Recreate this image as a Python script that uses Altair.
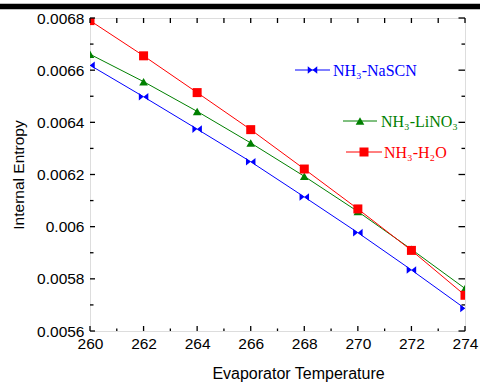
import altair as alt
import pandas as pd

# ---- data ----
temps = [260, 262, 264, 266, 268, 270, 272, 274]
nascn = [0.006619, 0.006498, 0.006374, 0.006249, 0.006114, 0.005977, 0.005834, 0.005686]
lino3 = [0.006661, 0.006556, 0.006442, 0.006321, 0.006193, 0.006058, 0.005913, 0.005763]
h2o = [0.006790, 0.006655, 0.006514, 0.006372, 0.006221, 0.006068, 0.005909, 0.005737]
series_names = ["NH₃-NaSCN", "NH₃-LiNO₃", "NH₃-H₂O"]
x_major = [260, 262, 264, 266, 268, 270, 272, 274]
x_minor = [261, 263, 265, 267, 269, 271, 273]
y_major = [0.0056, 0.0058, 0.0060, 0.0062, 0.0064, 0.0066, 0.0068]
y_minor = [0.0057, 0.0059, 0.0061, 0.0063, 0.0065, 0.0067]

# ---- styling / layout ----
W, H = 375, 313
colors = ["#0000ff", "#008000", "#ff0000"]
bowtie = "M-1,-0.8L0,0L-1,0.8ZM1,-0.8L0,0L1,0.8Z"
shapes = [bowtie, "triangle-up", "square"]
sizes = [90, 75, 81]
# legend layout: (line x0, line x1, y, text x)
leg_layout = [(205, 240, 52, 243), (253, 287, 103, 291), (256, 292, 134, 294)]

xs = alt.Scale(domain=[260, 274], nice=False, zero=False)
ys = alt.Scale(domain=[0.0056, 0.0068], nice=False, zero=False)

common = dict(labelFont="Liberation Sans", labelFontSize=15.5, labelColor="black",
              labelFlush=False, labelOverlap=False, labelBound=False,
              titleFont="Liberation Sans", titleColor="black", titleFontWeight="normal",
              domain=False, ticks=False, tickSize=0, grid=False)
x_axis = alt.Axis(values=x_major, title="Evaporator Temperature", format="d",
                  titleX=208, titleY=47, titleBaseline="alphabetic", titleFontSize=16,
                  labelPadding=5, **common)
y_axis = alt.Axis(values=y_major, title="Internal Entropy", format="~g",
                  titleX=-72, titleY=156.5, titleBaseline="middle", titleFontSize=15.5,
                  labelPadding=6, **common)

X = lambda: alt.X("T:Q", scale=xs, axis=x_axis)
Y = lambda: alt.Y("E:Q", scale=ys, axis=y_axis)

layers = []
for i, vals in enumerate([nascn, lino3, h2o]):
    df = pd.DataFrame({"T": temps, "E": vals})
    base = alt.Chart(df)
    layers.append(base.mark_line(color=colors[i], strokeWidth=1, clip=True).encode(x=X(), y=Y()))
    layers.append(base.mark_point(color=colors[i], shape=shapes[i], size=sizes[i], filled=True,
                                  opacity=1, clip=True).encode(x=X(), y=Y()))


def xticks(vals, y0, y1):
    return alt.Chart(pd.DataFrame({"T": vals})).mark_rule(color="black", strokeWidth=1.3).encode(
        x=X(), y=alt.value(y0), y2=alt.value(y1))


def yticks(vals, x0, x1):
    return alt.Chart(pd.DataFrame({"E": vals})).mark_rule(color="black", strokeWidth=1.3).encode(
        y=Y(), x=alt.value(x0), x2=alt.value(x1))


layers += [
    xticks(x_major, H, H - 5), xticks(x_minor, H, H - 2.5),
    xticks(x_major, 0, 5), xticks(x_minor, 0, 5),
    yticks(y_major, 0, 5), yticks(y_minor, 0, 3.5),
    yticks(y_major, W, W - 6.5), yticks(y_minor, W, W - 3.5),
]

# legend drawn inside the plot
for i, name in enumerate(series_names):
    x0, x1, yy, tx = leg_layout[i]
    ldf = pd.DataFrame({"name": [name]})
    lb = alt.Chart(ldf)
    layers.append(lb.mark_rule(color=colors[i], strokeWidth=1).encode(
        x=alt.value(x0), x2=alt.value(x1), y=alt.value(yy)))
    layers.append(lb.mark_point(color=colors[i], shape=shapes[i], size=sizes[i], filled=True, opacity=1).encode(
        x=alt.value((x0 + x1) / 2), y=alt.value(yy)))
    layers.append(lb.mark_text(color=colors[i], font="Liberation Serif", fontSize=16, align="left",
                               baseline="middle").encode(
        x=alt.value(tx), y=alt.value(yy + 1), text="name:N"))

# black bar at the very top of the image
layers.append(alt.Chart(pd.DataFrame({"a": [0]})).mark_rule(color="black", strokeWidth=5.5).encode(
    x=alt.value(-90), x2=alt.value(390), y=alt.value(-11.5)))

chart = alt.layer(*layers).properties(
    width=W, height=H,
    autosize=alt.AutoSizeParams(type="none"),
    padding={"left": 90, "top": 18, "right": 15, "bottom": 51},
).configure_view(stroke="black", strokeWidth=2).configure(background="white")

chart.save("out.html", embed_options={"renderer": "svg", "actions": False})
